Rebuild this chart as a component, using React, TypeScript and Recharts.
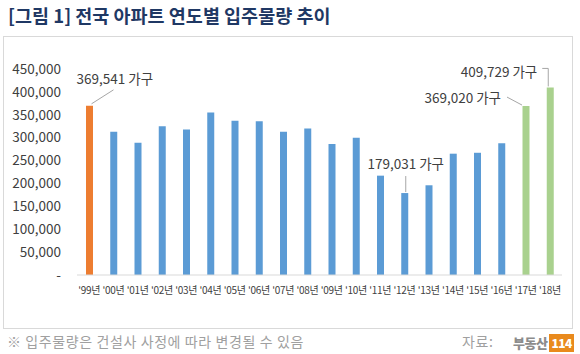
import React from "react";
import { BarChart, Bar, XAxis, YAxis, Cell, LabelList } from "recharts";

const years = ["'99년", "'00년", "'01년", "'02년", "'03년", "'04년", "'05년", "'06년", "'07년", "'08년", "'09년", "'10년", "'11년", "'12년", "'13년", "'14년", "'15년", "'16년", "'17년", "'18년"];
const supply = [369541, 313000, 289000, 325000, 318000, 355000, 337000, 336000, 313000, 320000, 286000, 300000, 217000, 179031, 196000, 265000, 267000, 288000, 369020, 409729];
const yTicks = [0, 50000, 100000, 150000, 200000, 250000, 300000, 350000, 400000, 450000];
const annotatedYears = ["'99년", "'12년", "'17년", "'18년"];
const unitLabel = "가구";
const titleText = "[그림 1] 전국 아파트 연도별 입주물량 추이";
const noteText = "※ 입주물량은 건설사 사정에 따라 변경될 수 있음";
const sourceText = "자료:";

const data = years.map((y, i) => ({ year: y, value: supply[i] }));

const FONT = "'Noto Sans CJK KR', 'Noto Sans', sans-serif";
const LINE = "#A6A6A6";
const TXT = "#404040";

const colorFor = (i: number) => (i === 0 ? "#ED7D31" : i >= 18 ? "#A9D18E" : "#5B9BD5");

const fmt = (v: number) => (v === 0 ? "-" : v.toLocaleString("en-US"));

const Annot = (p: any) => {
  const { x, y, width, index } = p;
  const year = years[index];
  const slot = annotatedYears.indexOf(year);
  if (slot < 0) return null;
  const cx = x + width / 2;
  const top = y;
  const label = `${supply[index].toLocaleString("en-US")} ${unitLabel}`;
  const ts = { fontFamily: FONT, fontSize: 13.5, fill: TXT } as const;
  if (slot === 0) {
    return (
      <g>
        <line x1={cx + 2} y1={top - 2} x2={cx + 24} y2={top - 16} stroke={LINE} strokeWidth={1} />
        <text x={cx - 13} y={top - 28} textAnchor="start" dominantBaseline="central" {...ts}>{label}</text>
      </g>
    );
  }
  if (slot === 1) {
    return (
      <g>
        <line x1={cx + 1} y1={top - 1} x2={cx + 1} y2={top - 17} stroke={LINE} strokeWidth={1} />
        <text x={cx + 1} y={top - 30} textAnchor="middle" dominantBaseline="central" {...ts}>{label}</text>
      </g>
    );
  }
  if (slot === 2) {
    return (
      <g>
        <line x1={cx - 19} y1={top - 9} x2={cx - 4} y2={top - 1} stroke={LINE} strokeWidth={1} />
        <text x={cx - 25} y={top - 9} textAnchor="end" dominantBaseline="central" {...ts}>{label}</text>
      </g>
    );
  }
  return (
    <g>
      <polyline points={`${cx - 8},${top - 19} ${cx - 2},${top - 19} ${cx - 2},${top - 1}`} fill="none" stroke={LINE} strokeWidth={1} />
      <text x={cx - 13} y={top - 16} textAnchor="end" dominantBaseline="central" {...ts}>{label}</text>
    </g>
  );
};

export default function App() {
  return (
    <div style={{ position: "absolute", left: 0, top: 0, width: 580, height: 354, background: "#fff", fontFamily: FONT, overflow: "hidden" }}>
      <div style={{ position: "absolute", left: 8, top: 2, fontSize: 18.5, fontWeight: 700, color: "#1F3864", whiteSpace: "nowrap", lineHeight: "26px" }}>
        {titleText}
      </div>
      <div style={{ position: "absolute", left: 3, top: 36, width: 568, height: 291, border: "1px solid #D9D9D9", boxSizing: "content-box" }} />
      <div style={{ position: "absolute", left: 0, top: 0 }}>
        <BarChart width={580} height={354} data={data} margin={{ top: 69, right: 18, bottom: 49, left: 0 }}>
          <XAxis
            dataKey="year"
            interval={0}
            height={30}
            tickSize={0}
            tickMargin={12}
            axisLine={{ stroke: "#D9D9D9" }}
            tickLine={false}
            tick={{ fontFamily: FONT, fontSize: 10, fill: TXT, letterSpacing: -0.3 }}
          />
          <YAxis
            width={77}
            domain={[0, 450000]}
            ticks={yTicks}
            interval={0}
            tickFormatter={fmt}
            axisLine={false}
            tickLine={false}
            tickSize={0}
            tickMargin={16}
            tick={{ fontFamily: FONT, fontSize: 13.5, fill: TXT }}
          />
          <Bar dataKey="value" barSize={7} isAnimationActive={false}>
            {data.map((d, i) => (
              <Cell key={d.year} fill={colorFor(i)} />
            ))}
            <LabelList dataKey="value" content={<Annot />} />
          </Bar>
        </BarChart>
      </div>
      <div style={{ position: "absolute", left: 7, top: 332, fontSize: 14, color: "#A0A0A0", letterSpacing: 0.6, whiteSpace: "nowrap", lineHeight: "19px" }}>
        {noteText}
      </div>
      <div style={{ position: "absolute", left: 462, top: 332, fontSize: 14, color: "#A0A0A0", letterSpacing: 0.6, whiteSpace: "nowrap", lineHeight: "19px" }}>
        {sourceText}
      </div>
      <div style={{ position: "absolute", left: 513, top: 333, height: 19, display: "flex", alignItems: "center", whiteSpace: "nowrap" }}>
        <span style={{ fontSize: 13, fontWeight: 900, color: "#8C8C8C", letterSpacing: -0.5 }}>부동산</span>
        <span style={{ marginLeft: 2, background: "#E98A1D", color: "#fff", fontSize: 12, fontWeight: 900, padding: "0 2px", lineHeight: "18px", letterSpacing: -0.5 }}>114</span>
      </div>
    </div>
  );
}
